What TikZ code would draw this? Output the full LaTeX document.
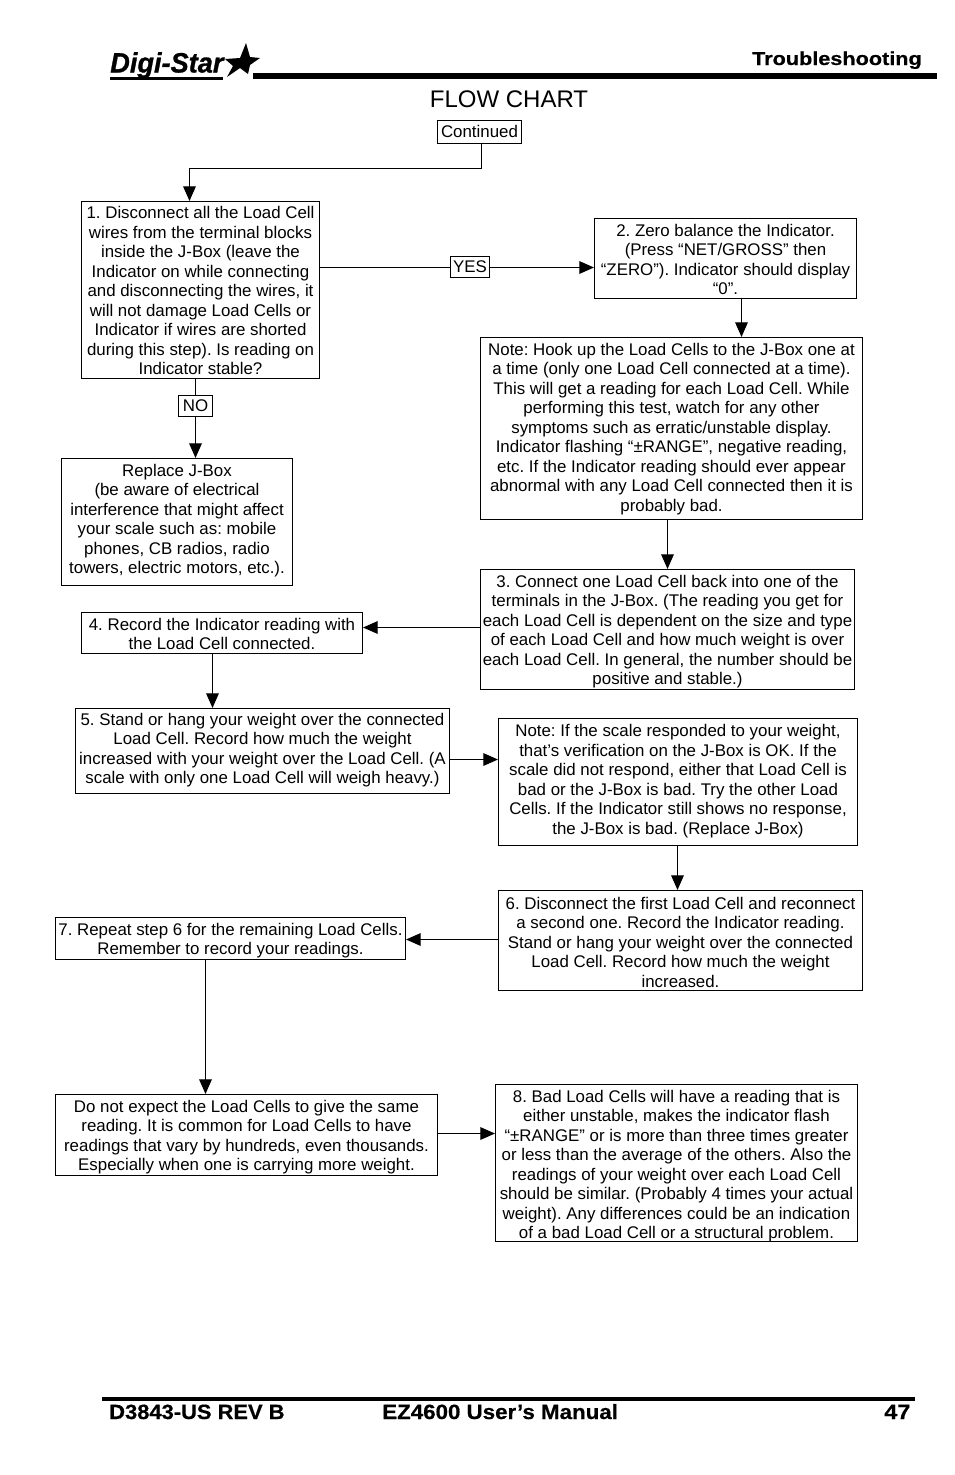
\documentclass[tikz,border=0pt]{standalone}
\usepackage{fontspec}
\usepackage{graphicx}
\setmainfont{Liberation Sans}
\newfontfamily\heavy[BoldFeatures={FakeBold=0.5}]{Liberation Sans}
\newfontfamily\heavyit[BoldItalicFeatures={FakeBold=1}]{Liberation Sans}
\usetikzlibrary{arrows.meta}
\tikzset{
  box/.style={draw=black,line width=0.8pt,inner sep=0pt,anchor=center},
  conn/.style={draw=black,line width=0.8pt},
  arr/.style={conn,-{Triangle[length=11pt,width=9.5pt]}},
  foot/.style={font=\fontsize{15.5}{16}\heavy\bfseries\selectfont,anchor=base west,inner sep=0pt},
}
\newcommand{\pbox}[7]{% name x1 y1 x2 y2 text text-offset(px)
  \node[box,minimum width={(#4-#2)*0.75pt},minimum height={(#5-#3)*0.75pt}] (#1) at ({(#2+#4)/2},{(#3+#5)/2})
  {\fontsize{12.65}{14.62}\selectfont\frenchspacing\raisebox{\dimexpr-0.75pt*\numexpr#7+60\relax/10\relax}[0pt][0pt]{\begin{tabular}[c]{@{}c@{}}#6\end{tabular}}};}
\begin{document}
\begin{tikzpicture}[x=0.75pt,y=-0.75pt]
\useasboundingbox (0,0) rectangle (954,1475);
% logo and header
\node[inner sep=0pt,anchor=base west] (logo) at (110,72.5) {\fontsize{21}{21}\heavyit\bfseries\itshape\selectfont\scalebox{0.97}[1]{Digi-Star}};
\fill[black] (110,77) rectangle (223,79.5);
\fill[black] (246,43) -- (250,57) -- (260,58) -- (250,65) -- (248,74) -- (240,68) -- (227,77) -- (233,66) -- (225,59) -- (240,58) -- cycle;
\fill[black] (253,73) rectangle (937,78.5);
\node[inner sep=0pt,anchor=base east] (hdr) at (922,65) {\fontsize{14}{14}\heavy\bfseries\selectfont\scalebox{1.16}[1]{Troubleshooting}};
\node[inner sep=0pt,anchor=center] (title) at (509,99) {\fontsize{18}{18}\selectfont FLOW CHART};
\begin{scope}[shift={(0.5,0.5)}]
% boxes
\pbox{cont}{437}{120}{521}{143}{Continued}{0}
\pbox{b1}{81}{201}{319}{378}{1. Disconnect all the Load Cell\\wires from the terminal blocks\\inside the J-Box (leave the\\Indicator on while connecting\\and disconnecting the wires, it\\will not damage Load Cells or\\Indicator if wires are shorted\\during this step). Is reading on\\Indicator stable?}{10}
\pbox{b2}{594}{218}{856}{298}{2. Zero balance the Indicator.\\(Press “NET/GROSS” then\\“ZERO”). Indicator should display\\“0”.}{10}
\pbox{n1}{480}{337}{862}{519}{Note: Hook up the Load Cells to the J-Box one at\\a time (only one Load Cell connected at a time).\\This will get a reading for each Load Cell. While\\performing this test, watch for any other\\symptoms such as erratic/unstable display.\\Indicator flashing “±RANGE”, negative reading,\\etc. If the Indicator reading should ever appear\\abnormal with any Load Cell connected then it is\\probably bad.}{-10}
\pbox{rep}{61}{458}{292}{585}{Replace J-Box\\(be aware of electrical\\interference that might affect\\your scale such as: mobile\\phones, CB radios, radio\\towers, electric motors, etc.).}{-30}
\pbox{b3}{480}{569}{854}{689}{3. Connect one Load Cell back into one of the\\terminals in the J-Box. (The reading you get for\\each Load Cell is dependent on the size and type\\of each Load Cell and how much weight is over\\each Load Cell. In general, the number should be\\positive and stable.)}{5}
\pbox{b4}{81}{612}{362}{653}{4. Record the Indicator reading with\\the Load Cell connected.}{10}
\pbox{b5}{75}{708}{449}{793}{5. Stand or hang your weight over the connected\\Load Cell. Record how much the weight\\increased with your weight over the Load Cell. (A\\scale with only one Load Cell will weigh heavy.)}{-25}
\pbox{n2}{498}{718}{857}{845}{Note: If the scale responded to your weight,\\that’s verification on the J-Box is OK. If the\\scale did not respond, either that Load Cell is\\bad or the J-Box is bad. Try the other Load\\Cells. If the Indicator still shows no response,\\the J-Box is bad. (Replace J-Box)}{-25}
\pbox{b6}{498}{890}{862}{990}{6. Disconnect the first Load Cell and reconnect\\a second one. Record the Indicator reading.\\Stand or hang your weight over the connected\\Load Cell. Record how much the weight\\increased.}{20}
\pbox{b7}{55}{917}{405}{959}{7. Repeat step 6 for the remaining Load Cells.\\Remember to record your readings.}{5}
\pbox{dn}{55}{1094}{437}{1175}{Do not expect the Load Cells to give the same\\reading. It is common for Load Cells to have\\readings that vary by hundreds, even thousands.\\Especially when one is carrying more weight.}{5}
\pbox{b8}{495}{1084}{857}{1241}{8. Bad Load Cells will have a reading that is\\either unstable, makes the indicator flash\\“±RANGE” or is more than three times greater\\or less than the average of the others. Also the\\readings of your weight over each Load Cell\\should be similar. (Probably 4 times your actual\\weight). Any differences could be an indication\\of a bad Load Cell or a structural problem.}{15}
\pbox{yes}{450}{256}{489}{277}{YES}{0}
\pbox{no}{178}{395}{212}{416}{NO}{0}
% guide coordinates
\coordinate (xa) at (481,168);
\coordinate (xb) at (189,168);
\coordinate (xc) at (741,0);
\coordinate (xd) at (195,0);
\coordinate (xe) at (667,0);
\coordinate (xf) at (212,0);
\coordinate (xg) at (677,0);
\coordinate (xh) at (205,0);
\coordinate (ya) at (0,267);
\coordinate (yb) at (0,627);
\coordinate (yc) at (0,759);
\coordinate (yd) at (0,939);
\coordinate (ye) at (0,1133);
% connectors
\draw[arr] (xa |- cont.south) -- (xa) -- (xb) -- (xb |- b1.north);
\draw[conn] (b1.east |- ya) -- (yes.west |- ya);
\draw[arr] (yes.east |- ya) -- (b2.west |- ya);
\draw[arr] (xc |- b2.south) -- (xc |- n1.north);
\draw[conn] (xd |- b1.south) -- (xd |- no.north);
\draw[arr] (xd |- no.south) -- (xd |- rep.north);
\draw[arr] (xe |- n1.south) -- (xe |- b3.north);
\draw[arr] (b3.west |- yb) -- (b4.east |- yb);
\draw[arr] (xf |- b4.south) -- (xf |- b5.north);
\draw[arr] (b5.east |- yc) -- (n2.west |- yc);
\draw[arr] (xg |- n2.south) -- (xg |- b6.north);
\draw[arr] (b6.west |- yd) -- (b7.east |- yd);
\draw[arr] (xh |- b7.south) -- (xh |- dn.north);
\draw[arr] (dn.east |- ye) -- (b8.west |- ye);
\end{scope}
% footer
\fill[black] (102,1397) rectangle (915,1401);
\node[foot] (f1) at (109,1419) {\scalebox{1.06}[1]{D3843-US REV B}};
\node[foot] (f2) at (382,1419) {\scalebox{1.08}[1]{EZ4600 User’s Manual}};
\node[foot] (f3) at (884,1419) {\scalebox{1.14}[1]{47}};
\end{tikzpicture}
\end{document}
